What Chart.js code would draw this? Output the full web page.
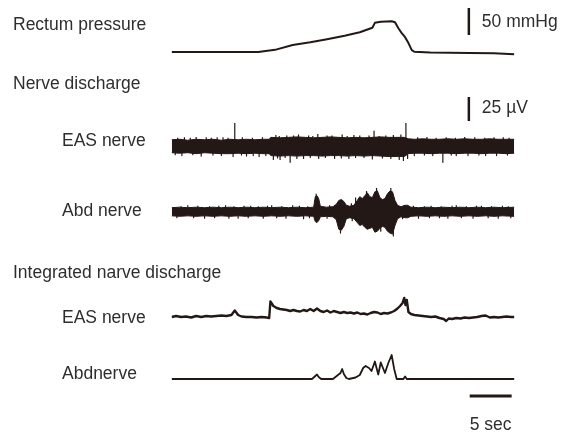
<!DOCTYPE html>
<html>
<head>
<meta charset="utf-8">
<script src="https://cdn.jsdelivr.net/npm/chart.js@4.4.0/dist/chart.umd.min.js"></script>
<style>
  html, body { margin: 0; padding: 0; background: #fff; }
  #wrap { width: 564px; height: 432px; }
</style>
</head>
<body>
<div id="wrap"><canvas id="myChart" width="564" height="432"></canvas></div>
<script>
// ---- data (time in sec, 0 = start of trace) ----

// rectum pressure, mmHg above resting level
const pressure = [[0.1,0],[3.5,0],[10.4,0],[12.4,4],[14.5,13],[16.6,18],[18.6,23.5],[20.7,30],[22.5,36.5],[24.0,45],
  [24.3,54],[25.0,56],[26.3,57],[26.7,55],[27.1,44],[27.5,35],[27.9,27.5],[28.3,16.5],[28.7,3.5],[29.0,0.5],
  [30.9,-1],[35.6,-2],[38.5,-2.5],[40.9,-4]];

// raw EAS nerve discharge, envelope of the band (µV)
const easTime = [0.1,1,2,3,4,5,6,7,8,9,10,11,11.7,11.9,13,14,15,16,17,18,19,20,21,22,23,24,25,26,27,27.8,28.3,29,30,31,32,33,34,35,36,37,38,39,40,40.9];
const easHigh = [6.5,7,6,7,6.5,7,6,7,6.5,7,6.5,7,7,9,8.5,9,9.5,9,8.5,9,9.5,9,8.5,9,8.5,9,9.5,9,9,9,7.5,7,7.5,7,7,7.5,7,7.5,7,7,7.5,7,7,7];
const easLow  = [-7,-7.5,-7,-8,-7,-7.5,-8,-8,-7.5,-8,-7.5,-8,-8,-10,-10.5,-10,-10.5,-10,-10,-10.5,-10,-10,-10.5,-10,-10.5,-10,-10.5,-11,-11,-11,-8,-7.5,-7.5,-8,-7.5,-7.5,-8,-7.5,-7.5,-8,-7.5,-7.5,-8,-7.5];
// single spikes sticking out of the band [time, µV]
const easSpikes = [[7.6,24],[24.2,16],[28.0,24],[3.0,9.5],[5.5,9],[12.5,11.5],[13.8,11],[15.2,12],[16.4,11],[17.5,12.5],
  [18.6,11],[21.8,11.5],[22.5,11],[26.5,11.5],[30.5,9.5],[35.0,9.5],[38.5,9],
  [0.8,8.5],[1.6,9],[2.3,8.5],[4.2,9],[4.8,8.5],[6.2,9],[6.8,8.5],[8.5,9],[9.7,8.5],[10.9,9],[12.9,10.5],[14.6,11],
  [16.9,10.5],[19.2,11],[20.4,12],[21.0,10.5],[23.6,11],[24.8,10.5],[25.6,11],[27.4,12],[29.4,9],[31.6,8.5],[32.8,9],
  [33.9,8.5],[36.2,9],[37.4,8.5],[39.6,9],[40.3,8.5],
  [7.4,-11],[9.0,-10.5],[10.5,-11],[12.2,-14],[13.0,-14],[14.2,-17],[15.8,-13],[19.5,-13],[21.2,-13],[23.0,-12],
  [27.2,-14],[27.7,-15],[28.2,-13],[32.4,-17],[34.0,-10],[37.5,-10],
  [0.5,-9],[1.3,-10],[2.6,-9],[3.6,-10.5],[5.0,-9.5],[6.0,-10],[8.4,-9.5],[9.8,-10],[11.3,-10],[12.7,-12.5],[13.6,-12],
  [15.0,-13],[16.6,-12],[17.6,-13],[18.4,-12],[20.3,-12.5],[22.0,-12],[24.0,-13.5],[25.2,-12.5],[26.2,-13],[29.0,-10],
  [30.2,-9.5],[31.2,-10],[33.4,-9.5],[35.4,-10],[36.7,-9.5],[38.8,-10],[40.1,-9.5]];

// raw Abd nerve discharge, envelope (µV)
const abdTime = [0.1,1,2,3,4,5,6,7,8,9,10,11,12,13,14,15,16,17.0,17.2,17.4,17.6,17.8,18.5,19.3,19.7,20.0,20.3,20.6,20.9,
  21.3,21.8,22.2,22.5,22.8,23.1,23.4,23.7,24.0,24.3,24.6,24.9,25.2,25.5,25.8,26.1,26.4,26.7,27.0,27.4,27.9,28.2,28.6,
  29.5,30.5,31.5,32.5,33.5,34.5,35.5,36.5,37.5,38.5,39.5,40.9];
const abdHigh = [4.5,5,4.5,5,4.5,5,4.5,5,4.5,5,4.5,5,4.5,5,4.5,5,4.5,5,16,17,14,6,5,5.5,8,12,13,11,7,
  6,7,12,16,14,17,20,16,15,21,22,15,13,14,19,22,21,12,7,5.5,7,7,5,
  4.5,5,4.5,5,4.5,5,4.5,5,4.5,5,4.5,5];
const abdLow = [-4,-4.5,-4,-4.5,-4,-4.5,-4,-4.5,-4,-4.5,-4,-4.5,-4,-4.5,-4,-4.5,-4,-4.5,-10,-11,-9,-5,-4.5,-5,-8,-18,-19,-15,-7,
  -6,-7,-11,-14,-13,-16,-18,-17,-16,-21,-20,-17,-15,-16,-20,-22,-23,-14,-7,-5,-6,-6,-4.5,
  -4,-4.5,-4,-4.5,-4,-4.5,-4,-4.5,-4,-4.5,-4,-4.5];
const abdSpikes = [[17.3,19],[20.2,-22],[22.0,15],[23.3,22],[24.5,25],[25.0,-20],[26.2,25],[26.5,-25],
  [2.0,7],[6.5,7],[9.5,6.5],[12.0,7],[14.5,7],[31.0,6.5],[34.0,7],[37.0,6.5],[39.5,6.5],
  [1.2,6],[3.2,6.5],[4.6,6],[5.7,6.5],[7.5,6],[8.7,6.5],[10.4,6],[11.5,6.5],[13.2,6],[15.3,6.5],[16.3,6],[18.9,7],
  [21.5,9],[28.9,6.5],[30.2,6],[32.2,6],[33.5,6.5],[35.2,6],[36.4,6.5],[38.2,6],[40.2,6],
  [4.0,-6.5],[8.0,-6.5],[11.0,-6.5],[15.8,-7],[29.5,-6.5],[33.0,-6.5],[36.0,-6.5],
  [0.7,-6],[2.7,-6],[5.2,-6],[6.9,-6.5],[9.2,-6],[12.6,-6],[13.7,-6.5],[16.5,-6],[18.6,-6.5],[21.6,-9],[27.6,-7],
  [30.8,-6],[32.0,-6],[34.6,-6],[37.8,-6],[39.0,-6.5],[40.5,-6]];

// integrated discharge (arbitrary units)
const integEas = [[0.1,0],[0.6,1],[1.2,0],[1.8,0.5],[2.4,-0.5],[3.0,1],[3.6,0],[4.2,1],[4.8,0.5],[5.4,1],[6.0,1.5],[6.6,1],
  [7.2,2],[7.6,6.5],[8.0,2],[8.4,0.5],[9.0,0],[9.6,0],[10.2,-0.5],[10.8,0],[11.4,-0.5],[11.7,-1],[11.85,15.5],[12.2,11],
  [12.6,9],[13.0,8],[13.4,7.5],[13.8,7],[14.2,6],[14.6,7],[15.0,6],[15.4,5.5],[15.8,7],[16.2,6],[16.6,8],[17.0,6],
  [17.4,8.5],[17.8,6],[18.2,5],[18.6,6.5],[19.0,4.5],[19.4,6],[19.8,5],[20.2,4],[20.6,5],[21.0,4],[21.4,4.5],[21.8,3.5],
  [22.2,4.5],[22.6,3],[23.0,3.5],[23.4,2.5],[23.8,4],[24.2,5],[24.6,4.5],[25.0,3],[25.4,4],[25.8,3.5],[26.2,4.5],
  [26.6,6],[27.0,8.5],[27.3,11],[27.6,14],[27.8,19],[27.95,12],[28.1,17],[28.3,5],[28.6,3],[29.0,2],[29.5,1.5],
  [30.0,1],[30.5,0.5],[31.0,0],[31.5,0.5],[32.0,-1],[32.5,-2],[32.8,-4],[33.1,-1.5],[33.5,-2],[34.0,-1],[34.5,-1.5],
  [35.0,-0.5],[35.5,-1],[36.0,-0.5],[36.5,0],[37.0,1],[37.5,1.5],[38.0,-0.5],[38.5,0],[39.0,-0.5],[39.5,0],[40.0,0.5],
  [40.5,0],[40.9,0]];
const integAbd = [[0.1,0],[16.8,0],[17.2,3],[17.4,4.5],[17.6,2],[17.9,0],[19.3,0],[19.9,4],[20.2,6],[20.4,10],[20.6,5],
  [20.9,1],[21.2,0],[22.0,1.5],[22.5,4],[22.9,11],[23.2,13],[23.6,11],[23.9,8],[24.3,17.5],[24.7,4.5],[25.0,16.5],
  [25.5,6],[25.9,16],[26.3,24],[26.6,10],[26.9,0],[27.7,0],[27.9,2.5],[28.1,0],[40.9,0]];

// scale bars
const barTime = 35.5;               // where the vertical bars stand
const pressureBar = [31.5, 81.5];    // 50 mmHg
const voltBar = [26, 51];            // 25 µV
const timeBar = [35.6, 40.6];        // 5 sec

const traceColor = '#231815';
const textColor = '#2e2e2e';
const H = 432;

const pts = arr => arr.map(p => ({ x: p[0], y: p[1] }));
const zip = (t, v) => t.map((x, i) => ({ x: x, y: v[i] }));
const spikes = arr => {
  const out = [];
  arr.forEach(s => { out.push({ x: s[0], y: 0 }, { x: s[0], y: s[1] }, { x: s[0], y: null }); });
  return out;
};
// y scale where value 0 sits at basePx and one unit takes pxPerUnit pixels
const yScale = (basePx, pxPerUnit) => ({
  display: false, min: (basePx - H) / pxPerUnit, max: basePx / pxPerUnit
});

const line = (data, axis, width) => ({
  data: data, yAxisID: axis, borderColor: traceColor, borderWidth: width,
  pointRadius: 0, tension: 0, fill: false, borderJoinStyle: 'round', spanGaps: false
});

const labels = [
  ['Rectum pressure', 13, 30], ['Nerve discharge', 13, 89], ['EAS nerve', 62, 146], ['Abd nerve', 62, 216],
  ['Integrated narve discharge', 13, 278], ['EAS nerve', 62, 323], ['Abdnerve', 62, 379]
];

const decor = {
  id: 'decor',
  afterDraw(chart) {
    const c = chart.ctx, s = chart.scales;
    const bx = s.x.getPixelForValue(barTime);
    c.save();
    c.strokeStyle = traceColor;
    c.lineCap = 'butt';
    c.lineWidth = 2.5;
    c.beginPath();
    c.moveTo(bx, s.yP.getPixelForValue(pressureBar[0]));
    c.lineTo(bx, s.yP.getPixelForValue(pressureBar[1]));
    c.moveTo(bx, s.yE.getPixelForValue(voltBar[0]));
    c.lineTo(bx, s.yE.getPixelForValue(voltBar[1]));
    c.stroke();
    c.lineWidth = 3;
    c.beginPath();
    const ty = s.yIA.getPixelForValue(-17);
    c.moveTo(s.x.getPixelForValue(timeBar[0]), ty);
    c.lineTo(s.x.getPixelForValue(timeBar[1]), ty);
    c.stroke();

    c.fillStyle = textColor;
    c.font = '17.5px "Liberation Sans", Arial, sans-serif';
    c.textBaseline = 'alphabetic';
    labels.forEach(l => c.fillText(l[0], l[1], l[2]));
    c.fillText('50 mmHg', bx + 13, 27);
    c.fillText('25 µV', bx + 13, 113);
    c.fillText('5 sec', s.x.getPixelForValue(timeBar[0]), 430);
    c.restore();
  }
};

let ctx = document.getElementById('myChart').getContext('2d');
let chartJS = new Chart(ctx, {
  type: 'line',
  data: {
    datasets: [
      line(pts(pressure), 'yP', 2),
      Object.assign(line(zip(easTime, easHigh), 'yE', 1), { fill: '+1', backgroundColor: traceColor }),
      line(zip(easTime, easLow), 'yE', 1),
      line(spikes(easSpikes), 'yE', 1.2),
      Object.assign(line(zip(abdTime, abdHigh), 'yA', 1), { fill: '+1', backgroundColor: traceColor }),
      line(zip(abdTime, abdLow), 'yA', 1),
      line(spikes(abdSpikes), 'yA', 1.2),
      line(pts(integEas), 'yIE', 2.4),
      line(pts(integAbd), 'yIA', 1.8)
    ]
  },
  options: {
    responsive: false,
    animation: false,
    layout: { padding: { left: 171, right: 49, top: 0, bottom: 0 } },
    plugins: { legend: { display: false }, tooltip: { enabled: false } },
    scales: {
      x: { type: 'linear', display: false, min: 0, max: 41 },
      yP: yScale(52, 0.54),
      yE: yScale(146, 0.96),
      yA: yScale(212, 0.96),
      yIE: yScale(317, 1),
      yIA: yScale(379, 1)
    }
  },
  plugins: [decor]
});
</script>
</body>
</html>
